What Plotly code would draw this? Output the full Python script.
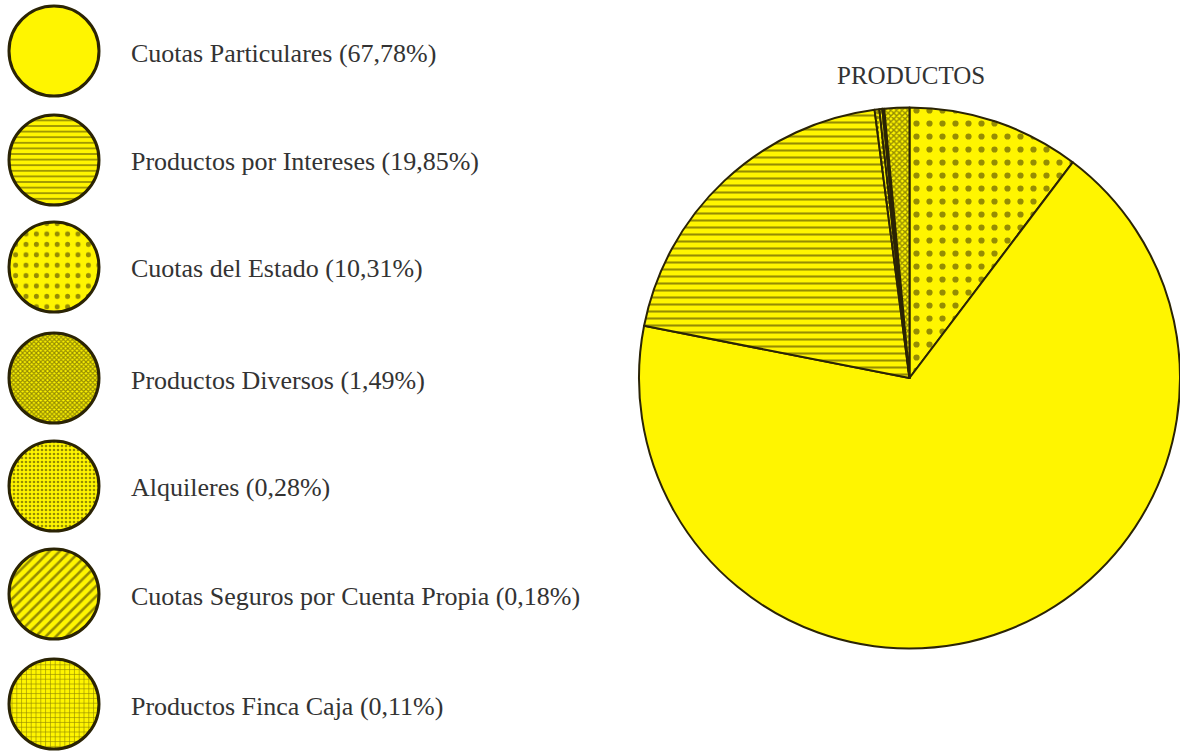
import plotly.graph_objects as go

# Data (clockwise from 12 o'clock, as drawn)
categories = [
    "Cuotas del Estado",
    "Cuotas Particulares",
    "Productos por Intereses",
    "Alquileres",
    "Cuotas Seguros por Cuenta Propia",
    "Productos Finca Caja",
    "Productos Diversos",
]
values = [10.31, 67.78, 19.85, 0.28, 0.18, 0.11, 1.49]

# Legend order (top to bottom)
legend_order = [
    "Cuotas Particulares",
    "Productos por Intereses",
    "Cuotas del Estado",
    "Productos Diversos",
    "Alquileres",
    "Cuotas Seguros por Cuenta Propia",
    "Productos Finca Caja",
]
legend_pct_text = ["67,78%", "19,85%", "10,31%", "1,49%", "0,28%", "0,18%", "0,11%"]

# Styles per category
YELLOW = "#FFF500"
INK = "#2b2405"
pattern_shape = {
    "Cuotas Particulares": "",
    "Productos por Intereses": "-",
    "Cuotas del Estado": ".",
    "Productos Diversos": "x",
    "Alquileres": ".",
    "Cuotas Seguros por Cuenta Propia": "/",
    "Productos Finca Caja": "+",
}
pattern_size = {
    "Cuotas Particulares": 8,
    "Productos por Intereses": 7,
    "Cuotas del Estado": 13,
    "Productos Diversos": 4,
    "Alquileres": 5,
    "Cuotas Seguros por Cuenta Propia": 9,
    "Productos Finca Caja": 6,
}
pattern_solidity = {
    "Cuotas Particulares": 0.3,
    "Productos por Intereses": 0.3,
    "Cuotas del Estado": 0.18,
    "Productos Diversos": 0.6,
    "Alquileres": 0.35,
    "Cuotas Seguros por Cuenta Propia": 0.35,
    "Productos Finca Caja": 0.25,
}

W, H = 1180, 751
fig = go.Figure()

# Main pie
cx, cy, r = 911, 378, 272
fig.add_trace(go.Pie(
    labels=categories,
    values=values,
    sort=False,
    direction="clockwise",
    rotation=0,
    textinfo="none",
    hoverinfo="label+percent",
    showlegend=False,
    marker=dict(
        colors=[YELLOW] * len(categories),
        line=dict(color=INK, width=2),
        pattern=dict(
            shape=[pattern_shape[c] for c in categories],
            size=[pattern_size[c] for c in categories],
            solidity=[pattern_solidity[c] for c in categories],
            fgcolor=INK,
            fillmode="overlay",
        ),
    ),
    domain=dict(x=[(cx - r) / W, 1.0], y=[(H - cy - r) / H, (H - cy + r) / H]),
))

# Legend swatches as small one-slice pies + labels
lx, lr = 54, 45
ys = [51, 160, 267, 378, 486, 594, 704]
for name, pct, y in zip(legend_order, legend_pct_text, ys):
    fig.add_trace(go.Pie(
        labels=[name],
        values=[1],
        textinfo="none",
        hoverinfo="label",
        showlegend=False,
        sort=False,
        marker=dict(
            colors=[YELLOW],
            line=dict(color=INK, width=3),
            pattern=dict(
                shape=[pattern_shape[name]],
                size=[pattern_size[name] * 0.8],
                solidity=[pattern_solidity[name]],
                fgcolor=INK,
                fillmode="overlay",
            ),
        ),
        domain=dict(x=[(lx - lr) / W, (lx + lr) / W],
                    y=[(H - y - lr) / H, (H - y + lr) / H]),
    ))
    fig.add_annotation(
        x=129 / W, y=(H - y - 2) / H, xref="paper", yref="paper",
        xanchor="left", yanchor="middle", showarrow=False,
        text=f"{name} ({pct})",
        font=dict(family="Liberation Serif", size=26, color="#333333"),
    )

fig.add_annotation(
    x=cx / W, y=(H - 75) / H, xref="paper", yref="paper",
    xanchor="center", yanchor="middle", showarrow=False,
    text="PRODUCTOS",
    font=dict(family="Liberation Serif", size=25, color="#333333"),
)

fig.update_layout(
    width=W, height=H,
    margin=dict(l=0, r=0, t=0, b=0),
    paper_bgcolor="white",
    plot_bgcolor="white",
)

fig.write_html(
    "out.html",
    config={"displayModeBar": False},
    post_script="document.body.style.margin='0';document.body.style.overflow='hidden';",
)
